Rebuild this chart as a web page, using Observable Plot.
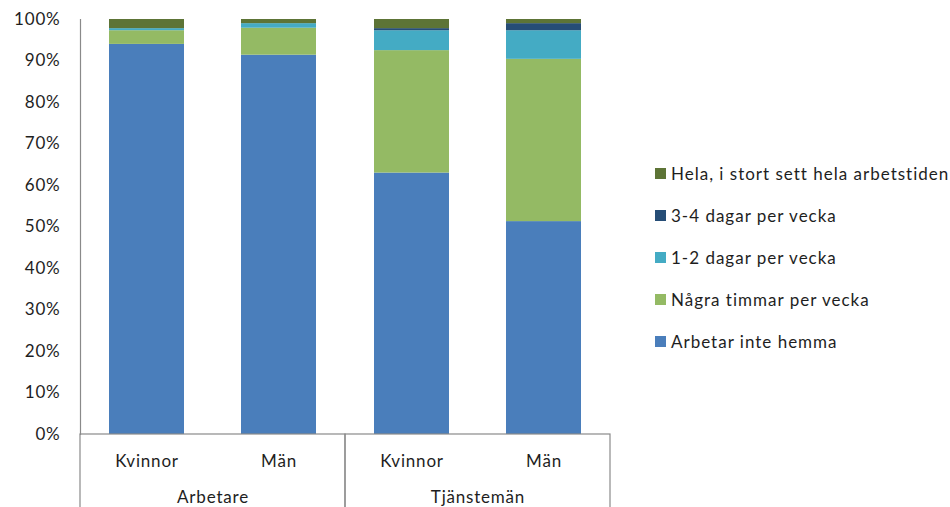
<!DOCTYPE html>
<html>
<head>
<meta charset="utf-8">
<script src="https://cdn.jsdelivr.net/npm/d3@7"></script>
<script src="https://cdn.jsdelivr.net/npm/@observablehq/plot@0.6"></script>
<style>
  html, body { margin: 0; padding: 0; background: #fff; }
  #wrap { position: relative; width: 950px; height: 507px; font-family: Lato, "Open Sans", sans-serif; color: #1e1e1e; }
  #chart { position: absolute; left: 0; top: 0; }
  #chart text { letter-spacing: 0.8px; }
  #legend { position: absolute; left: 655px; top: 152px; font-size: 17px; letter-spacing: 1px; }
  .item { display: flex; align-items: center; height: 42px; white-space: nowrap; }
  .swatch { width: 11px; height: 11px; margin-right: 5px; flex: none; }
</style>
</head>
<body>
<div id="wrap">
  <div id="chart"></div>
  <div id="legend"></div>
</div>
<script>
// Occupational groups and sexes along the category axis
const groups = ["Arbetare", "Tjänstemän"];
const sexes = ["Kvinnor", "Män"];

// Answer categories, stacked bottom to top
const categories = [
  "Arbetar inte hemma",
  "Några timmar per vecka",
  "1-2 dagar per vecka",
  "3-4 dagar per vecka",
  "Hela, i stort sett hela arbetstiden"
];
const colors = ["#4a7ebb", "#94ba64", "#44abc4", "#264d76", "#5d7436"];

// Shares (%) per category, in the order: Arbetare Kvinnor, Arbetare Män, Tjänstemän Kvinnor, Tjänstemän Män
const arbetarInteHemma   = [94.0, 91.4, 63.0, 51.3];
const nagraTimmar        = [3.3, 6.5, 29.5, 39.1];
const ettTvaDagar        = [0.5, 1.1, 4.8, 6.9];
const treFyraDagar       = [0.0, 0.0, 0.5, 1.7];
const helaArbetstiden    = [2.2, 1.0, 2.2, 1.0];

const yTicks = [0, 0.1, 0.2, 0.3, 0.4, 0.5, 0.6, 0.7, 0.8, 0.9, 1];

const series = [arbetarInteHemma, nagraTimmar, ettTvaDagar, treFyraDagar, helaArbetstiden];
const columns = groups.flatMap(g => sexes.map(s => ({group: g, sex: s})));
const rows = categories.flatMap((c, k) =>
  columns.map((col, i) => ({...col, category: c, value: series[k][i] / 100}))
);

const height = 507;
const marginBottom = 73;
const axisColor = "#8a8a8a";

const chart = Plot.plot({
  width: 640,
  height,
  marginLeft: 80,
  marginRight: 30,
  marginTop: 19,
  marginBottom,
  style: {fontFamily: "Lato, 'Open Sans', sans-serif", fontSize: "17px", color: "#1e1e1e", background: "#fff"},
  fx: {domain: groups, padding: 0, label: null},
  x: {domain: sexes, paddingInner: 0.43, paddingOuter: 0.215, label: null},
  y: {domain: [0, 1], label: null},
  color: {domain: categories, range: colors},
  marks: [
    Plot.barY(rows, {fx: "group", x: "sex", y: "value", fill: "category", order: categories}),
    // category axis box: top line plus group separators reaching into the margin
    Plot.rect(groups, {fx: d => d, y1: () => 0, y2: () => 0, insetBottom: -(marginBottom + 2), stroke: axisColor, strokeWidth: 1.2, fill: "none"}),
    // value axis line
    Plot.frame({facet: "super", anchor: "left", stroke: axisColor, strokeWidth: 1.2}),
    Plot.axisY({ticks: yTicks, tickFormat: d => `${Math.round(d * 100)}%`, tickSize: 0, tickPadding: 20, label: null}),
    Plot.axisX({tickSize: 0, tickPadding: 20, label: null}),
    Plot.axisFx({anchor: "bottom", tickSize: 0, tickPadding: 56, label: null})
  ]
});
document.getElementById("chart").append(chart);

// legend, top entry is the last stacked category
const legend = d3.select("#legend");
categories.slice().reverse().forEach(c => {
  const item = legend.append("div").attr("class", "item");
  item.append("div").attr("class", "swatch").style("background", colors[categories.indexOf(c)]);
  item.append("span").text(c);
});
</script>
</body>
</html>
